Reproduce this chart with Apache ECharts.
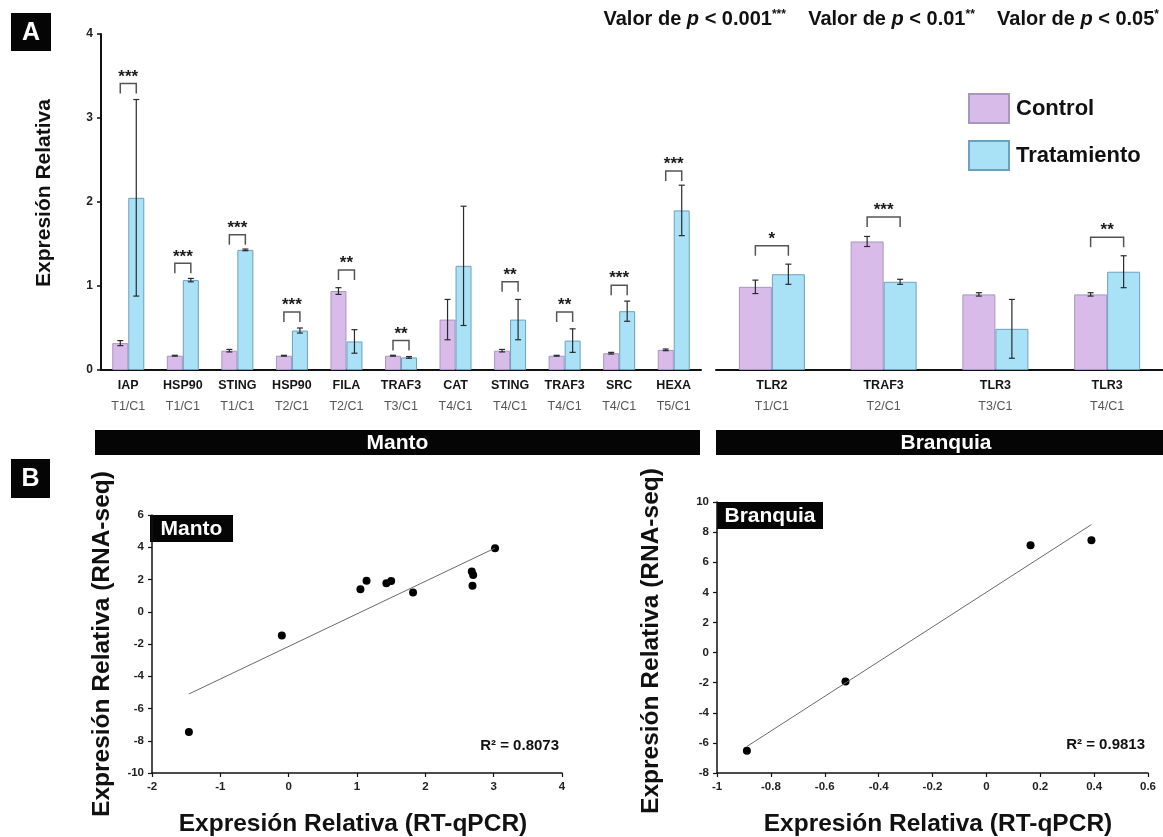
<!DOCTYPE html>
<html>
<head>
<meta charset="utf-8">
<script src="https://cdn.jsdelivr.net/npm/echarts@6/dist/echarts.min.js"></script>
<style>
  html, body { margin: 0; padding: 0; background: #fff; }
  #chart { width: 1163px; height: 837px; }
</style>
</head>
<body>
<div id="chart"></div>
<script>
// ---- Panel A: relative expression, Manto tissue ----
const mantoGenes = ['IAP', 'HSP90', 'STING', 'HSP90', 'FILA', 'TRAF3', 'CAT', 'STING', 'TRAF3', 'SRC', 'HEXA'];
const mantoComparisons = ['T1/C1', 'T1/C1', 'T1/C1', 'T2/C1', 'T2/C1', 'T3/C1', 'T4/C1', 'T4/C1', 'T4/C1', 'T4/C1', 'T5/C1'];
const mantoControl = [0.32, 0.17, 0.23, 0.17, 0.94, 0.17, 0.60, 0.23, 0.17, 0.20, 0.24];
const mantoControlErr = [0.03, 0.005, 0.015, 0.005, 0.04, 0.005, 0.24, 0.015, 0.005, 0.01, 0.01];
const mantoTreatment = [2.05, 1.07, 1.43, 0.47, 0.34, 0.15, 1.24, 0.60, 0.35, 0.70, 1.90];
const mantoTreatmentErr = [1.17, 0.02, 0.01, 0.03, 0.14, 0.01, 0.71, 0.24, 0.14, 0.12, 0.30];
const mantoStars = ['***', '***', '***', '***', '**', '**', '', '**', '**', '***', '***'];
const mantoBracketY = [3.41, 1.27, 1.61, 0.69, 1.19, 0.35, null, 1.05, 0.69, 1.01, 2.37];

// ---- Panel A: relative expression, Branquia tissue ----
const branquiaGenes = ['TLR2', 'TRAF3', 'TLR3', 'TLR3'];
const branquiaComparisons = ['T1/C1', 'T2/C1', 'T3/C1', 'T4/C1'];
const branquiaControl = [0.99, 1.53, 0.90, 0.90];
const branquiaControlErr = [0.08, 0.06, 0.02, 0.02];
const branquiaTreatment = [1.14, 1.05, 0.49, 1.17];
const branquiaTreatmentErr = [0.12, 0.03, 0.35, 0.19];
const branquiaStars = ['*', '***', '', '**'];
const branquiaBracketY = [1.48, 1.82, null, 1.58];

const barTicks = [0, 1, 2, 3, 4];

// ---- Panel B: RT-qPCR vs RNA-seq ----
const mantoQpcr = [-1.46, -0.10, 1.05, 1.14, 1.43, 1.50, 1.82, 2.68, 2.70, 2.69, 3.02];
const mantoRnaseq = [-7.46, -1.48, 1.40, 1.93, 1.77, 1.91, 1.19, 2.49, 2.28, 1.62, 3.94];
const mantoR2 = 'R² = 0.8073';
const branquiaQpcr = [-0.889, -0.523, 0.164, 0.390];
const branquiaRnaseq = [-6.52, -1.93, 7.13, 7.46];
const branquiaR2 = 'R² = 0.9813';

const FONT = '"Liberation Sans", Arial, Helvetica, sans-serif';
const CONTROL_COLOR = '#d9bbe9';
const CONTROL_BORDER = '#a497c2';
const TREAT_COLOR = '#a9e1f6';
const TREAT_BORDER = '#6f9fc0';

// least-squares line through the points, spanning the observed x range
function trendLine(xs, ys) {
  const n = xs.length;
  const mx = xs.reduce((a, b) => a + b, 0) / n;
  const my = ys.reduce((a, b) => a + b, 0) / n;
  let sxy = 0, sxx = 0;
  for (let i = 0; i < n; i++) { sxy += (xs[i] - mx) * (ys[i] - my); sxx += (xs[i] - mx) ** 2; }
  const slope = sxy / sxx;
  const icpt = my - slope * mx;
  const x0 = Math.min(...xs), x1 = Math.max(...xs);
  return [[x0, icpt + slope * x0], [x1, icpt + slope * x1]];
}

function pairs(xs, ys) { return xs.map((x, i) => [x, ys[i]]); }

function errorSeries(grid, values, errs, offset) {
  return {
    type: 'custom', xAxisIndex: grid, yAxisIndex: grid, z: 4, clip: false,
    silent: true,
    data: values.map((v, i) => [i, v, errs[i]]),
    renderItem: function (params, api) {
      const c = api.value(0), v = api.value(1), e = api.value(2);
      const top = api.coord([c, v + e]);
      const bot = api.coord([c, v - e]);
      const x = top[0] + offset;
      const cap = 3;
      const st = { stroke: '#2a2a2a', lineWidth: 1.2 };
      return {
        type: 'group',
        children: [
          { type: 'line', shape: { x1: x, y1: top[1], x2: x, y2: bot[1] }, style: st },
          { type: 'line', shape: { x1: x - cap, y1: top[1], x2: x + cap, y2: top[1] }, style: st },
          { type: 'line', shape: { x1: x - cap, y1: bot[1], x2: x + cap, y2: bot[1] }, style: st }
        ]
      };
    }
  };
}

function bracketSeries(grid, levels, stars, half) {
  const data = [];
  levels.forEach((y, i) => { if (y !== null) data.push([i, y, stars[i]]); });
  return {
    type: 'custom', xAxisIndex: grid, yAxisIndex: grid, z: 5, clip: false,
    silent: true,
    data: data,
    renderItem: function (params, api) {
      const c = api.value(0), y = api.value(1);
      const p = api.coord([c, y]);
      const lx = p[0] - half, rx = p[0] + half;
      return {
        type: 'group',
        children: [
          { type: 'polyline', shape: { points: [[lx, p[1] + 10], [lx, p[1]], [rx, p[1]], [rx, p[1] + 10]] },
            style: { stroke: '#555', lineWidth: 1.5, fill: null } },
          { type: 'text', x: p[0], y: p[1] + 2,
            style: { text: data[params.dataIndex][2], textAlign: 'center', textVerticalAlign: 'bottom',
                     fontFamily: FONT, fontWeight: 'bold', fontSize: 17, fill: '#1a1a1a' } }
        ]
      };
    }
  };
}

function catAxis(grid, genes, comps) {
  return {
    type: 'category', gridIndex: grid,
    data: genes.map((g, i) => g + ' ' + comps[i]),
    axisLine: { lineStyle: { color: '#111', width: 2 } },
    axisTick: { length: 5, lineStyle: { color: '#111', width: 1.5 } },
    axisLabel: {
      margin: 5, interval: 0,
      formatter: function (v, i) { return '{g|' + genes[i] + '}\n{t|' + comps[i] + '}'; },
      rich: {
        g: { fontFamily: FONT, fontWeight: 'bold', fontSize: 12.5, color: '#151515', lineHeight: 21 },
        t: { fontFamily: FONT, fontSize: 12.5, color: '#555', lineHeight: 21 }
      }
    }
  };
}

function valueAxisScatter(grid, min, max, interval) {
  return {
    type: 'value', gridIndex: grid, min: min, max: max, interval: interval,
    axisLine: { show: true, onZero: false, lineStyle: { color: '#111', width: 1.5 } },
    axisTick: { show: true, length: 4, lineStyle: { color: '#111', width: 1.2 } },
    splitLine: { show: false },
    axisLabel: { fontFamily: FONT, fontWeight: 'bold', fontSize: 11.5, color: '#222', margin: 8 }
  };
}

function label(x, y, text, size, opts) {
  return Object.assign({
    type: 'text', x: x, y: y,
    style: { text: text, fontFamily: FONT, fontWeight: 'bold', fontSize: size, fill: '#111',
             textAlign: 'center', textVerticalAlign: 'middle' }
  }, opts || {});
}

function tag(x, y, w, h, text, size) {
  return [
    { type: 'rect', shape: { x: x, y: y, width: w, height: h }, style: { fill: '#050505' } },
    { type: 'text', x: x + w / 2, y: y + h / 2 + 1,
      style: { text: text, fontFamily: FONT, fontWeight: 'bold', fontSize: size, fill: '#fff',
               textAlign: 'center', textVerticalAlign: 'middle' } }
  ];
}

const chart = echarts.init(document.getElementById('chart'), null, { renderer: 'canvas' });

const option = {
  backgroundColor: '#ffffff',
  animation: false,
  textStyle: { fontFamily: FONT },
  grid: [
    { left: 101, top: 34, width: 600, height: 336 },
    { left: 716, top: 34, width: 458, height: 336 },
    { left: 152, top: 515, width: 410, height: 258 },
    { left: 717, top: 502, width: 431, height: 271 }
  ],
  legend: {
    data: ['Control', 'Tratamiento'],
    orient: 'vertical', left: 968, top: 93, padding: 0,
    itemWidth: 40, itemHeight: 29, itemGap: 16, icon: 'rect',
    textStyle: { fontFamily: FONT, fontWeight: 'bold', fontSize: 22, color: '#111', padding: [0, 0, 0, 2] }
  },
  xAxis: [
    catAxis(0, mantoGenes, mantoComparisons),
    catAxis(1, branquiaGenes, branquiaComparisons),
    valueAxisScatter(2, -2, 4, 1),
    valueAxisScatter(3, -1, 0.6, 0.2)
  ],
  yAxis: [
    {
      type: 'value', gridIndex: 0, min: barTicks[0], max: barTicks[barTicks.length - 1], interval: 1,
      axisLine: { show: true, lineStyle: { color: '#111', width: 2 } },
      axisTick: { show: true, length: 4, lineStyle: { color: '#111', width: 1.5 } },
      splitLine: { show: false },
      axisLabel: { fontFamily: FONT, fontWeight: 'bold', fontSize: 12, color: '#222', margin: 8 }
    },
    {
      type: 'value', gridIndex: 1, min: barTicks[0], max: barTicks[barTicks.length - 1], interval: 1,
      show: false, splitLine: { show: false }
    },
    valueAxisScatter(2, -10, 6, 2),
    valueAxisScatter(3, -8, 10, 2)
  ],
  series: [
    { name: 'Control', type: 'bar', xAxisIndex: 0, yAxisIndex: 0, data: mantoControl,
      barWidth: 16, barGap: '0%',
      itemStyle: { color: CONTROL_COLOR, borderColor: CONTROL_BORDER, borderWidth: 1 } },
    { name: 'Tratamiento', type: 'bar', xAxisIndex: 0, yAxisIndex: 0, data: mantoTreatment,
      barWidth: 16, barGap: '0%',
      itemStyle: { color: TREAT_COLOR, borderColor: TREAT_BORDER, borderWidth: 1 } },
    { name: 'Control', type: 'bar', xAxisIndex: 1, yAxisIndex: 1, data: branquiaControl,
      barWidth: 33, barGap: '0%',
      itemStyle: { color: CONTROL_COLOR, borderColor: CONTROL_BORDER, borderWidth: 1 } },
    { name: 'Tratamiento', type: 'bar', xAxisIndex: 1, yAxisIndex: 1, data: branquiaTreatment,
      barWidth: 33, barGap: '0%',
      itemStyle: { color: TREAT_COLOR, borderColor: TREAT_BORDER, borderWidth: 1 } },
    errorSeries(0, mantoControl, mantoControlErr, -8),
    errorSeries(0, mantoTreatment, mantoTreatmentErr, 8),
    errorSeries(1, branquiaControl, branquiaControlErr, -16.5),
    errorSeries(1, branquiaTreatment, branquiaTreatmentErr, 16.5),
    bracketSeries(0, mantoBracketY, mantoStars, 8),
    bracketSeries(1, branquiaBracketY, branquiaStars, 16.5),
    { type: 'line', xAxisIndex: 2, yAxisIndex: 2, data: trendLine(mantoQpcr, mantoRnaseq),
      showSymbol: false, silent: true, lineStyle: { color: '#6a6a6a', width: 1 } },
    { type: 'scatter', xAxisIndex: 2, yAxisIndex: 2, data: pairs(mantoQpcr, mantoRnaseq),
      symbolSize: 8, itemStyle: { color: '#000', opacity: 1 } },
    { type: 'line', xAxisIndex: 3, yAxisIndex: 3, data: trendLine(branquiaQpcr, branquiaRnaseq),
      showSymbol: false, silent: true, lineStyle: { color: '#6a6a6a', width: 1 } },
    { type: 'scatter', xAxisIndex: 3, yAxisIndex: 3, data: pairs(branquiaQpcr, branquiaRnaseq),
      symbolSize: 8, itemStyle: { color: '#000', opacity: 1 } }
  ],
  graphic: [].concat(
    // panel letters
    tag(11, 13, 40, 38, 'A', 25),
    tag(11, 459, 39, 39, 'B', 25),
    [
      // significance key
      { type: 'text', x: 1159, y: 19, style: {
          text: '{b|Valor de }{i|p}{b| < 0.001}{s|***}{b|    Valor de }{i|p}{b| < 0.01}{s|**}{b|    Valor de }{i|p}{b| < 0.05}{s|*}',
          textAlign: 'right', textVerticalAlign: 'middle',
          rich: {
            b: { fontFamily: FONT, fontWeight: 'bold', fontSize: 20, fill: '#111' },
            i: { fontFamily: FONT, fontWeight: 'bold', fontStyle: 'italic', fontSize: 20, fill: '#111' },
            s: { fontFamily: FONT, fontWeight: 'bold', fontSize: 12, fill: '#111', verticalAlign: 'top' }
          } } },
      // bar chart y title
      label(44, 193, 'Expresión Relativa', 21, { rotation: Math.PI / 2 }),
      // scatter axis titles
      label(102, 644, 'Expresión Relativa (RNA-seq)', 24.5, { rotation: Math.PI / 2 }),
      label(651, 641, 'Expresión Relativa (RNA-seq)', 24.5, { rotation: Math.PI / 2 }),
      label(353, 824, 'Expresión Relativa (RT-qPCR)', 24.5),
      label(938, 824, 'Expresión Relativa (RT-qPCR)', 24.5),
      // R² notes
      { type: 'text', x: 559, y: 746, style: { text: mantoR2, fontFamily: FONT, fontWeight: 'bold', fontSize: 15, fill: '#111', textAlign: 'right', textVerticalAlign: 'middle' } },
      { type: 'text', x: 1145, y: 745, style: { text: branquiaR2, fontFamily: FONT, fontWeight: 'bold', fontSize: 15, fill: '#111', textAlign: 'right', textVerticalAlign: 'middle' } }
    ],
    // tissue bands under the bar chart
    tag(95, 430, 605, 25, 'Manto', 21),
    tag(716, 430, 460, 25, 'Branquia', 21),
    // scatter panel tags
    tag(150, 515, 83, 27, 'Manto', 21),
    tag(717, 502, 106, 27, 'Branquia', 21)
  )
};

chart.setOption(option);
</script>
</body>
</html>
